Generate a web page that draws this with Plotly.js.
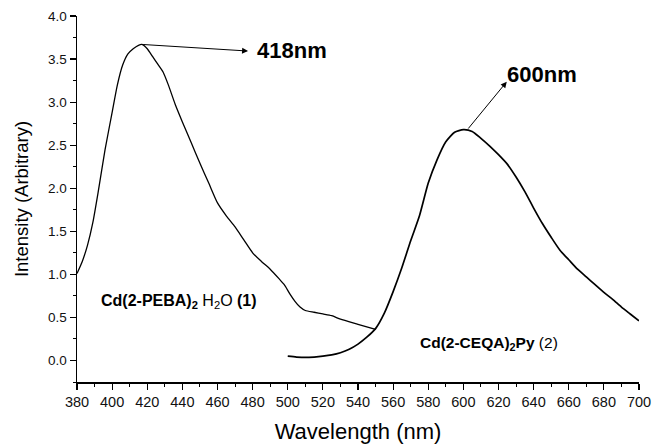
<!DOCTYPE html>
<html>
<head>
<meta charset="utf-8">
<script src="https://cdn.plot.ly/plotly-3.0.1.min.js"></script>
<style>html,body{margin:0;padding:0;background:#fff;}#chart{width:653px;height:444px;}</style>
</head>
<body>
<div id="chart"></div>
<script>
// Curve 1: Cd(2-PEBA)2 H2O (1)
const wavelength1 = [380,383,386,389,392,396,400,403,406,409,412,415,417,420,423,426,429,432,436,440,445,450,455,460,465,470,475,480,485,490,495,498,501,504,507,510,515,520,525,530,540,550];
const intensity1  = [1.01,1.15,1.34,1.60,1.95,2.45,2.88,3.20,3.43,3.56,3.62,3.66,3.67,3.62,3.53,3.44,3.35,3.20,2.97,2.77,2.53,2.29,2.06,1.83,1.68,1.55,1.40,1.25,1.15,1.06,0.95,0.88,0.78,0.69,0.62,0.58,0.56,0.54,0.52,0.48,0.42,0.36];
// Curve 2: Cd(2-CEQA)2Py (2)
const wavelength2 = [500,505,510,515,520,525,530,535,540,545,550,555,560,565,570,575,580,585,590,595,600,605,610,615,620,625,630,635,640,645,650,655,660,665,670,675,680,685,690,695,700];
const intensity2  = [0.05,0.04,0.035,0.04,0.05,0.065,0.09,0.13,0.19,0.27,0.37,0.55,0.80,1.08,1.39,1.68,2.06,2.33,2.54,2.65,2.68,2.66,2.58,2.49,2.39,2.28,2.13,1.96,1.77,1.59,1.43,1.28,1.17,1.06,0.97,0.88,0.79,0.71,0.62,0.54,0.46];
const peakLabels = ["418nm", "600nm"];
const seriesLabels = ["<b>Cd(2-PEBA)<sub>2</sub></b> H<sub>2</sub>O <b>(1)</b>", "<b>Cd(2-CEQA)<sub>2</sub>Py</b> (2)"];

const FONT = "Liberation Sans, Arial, Helvetica, sans-serif";
const traces = [
  {x: wavelength1, y: intensity1, mode: "lines", line: {color: "#000", width: 1.3, shape: "spline", smoothing: 0.6}, hoverinfo: "none"},
  {x: wavelength2, y: intensity2, mode: "lines", line: {color: "#000", width: 1.7, shape: "spline", smoothing: 0.6}, hoverinfo: "none"}
];
const layout = {
  width: 653, height: 444,
  margin: {l: 77, r: 14, t: 16, b: 62},
  paper_bgcolor: "#fff", plot_bgcolor: "#fff",
  showlegend: false,
  font: {family: FONT, color: "#000"},
  xaxis: {
    range: [380, 700], dtick: 20, tick0: 380,
    showline: true, linecolor: "#000", linewidth: 1.5,
    ticks: "outside", ticklen: 6, tickwidth: 1.2, tickcolor: "#000",
    minor: {dtick: 10, ticks: "outside", ticklen: 3, tickwidth: 1, tickcolor: "#000"},
    showgrid: false, zeroline: false,
    tickfont: {size: 14.5, color: "#111", family: FONT},
    title: {text: "Wavelength (nm)", font: {size: 22, family: FONT}, standoff: 14}
  },
  yaxis: {
    range: [-0.25, 4.0], dtick: 0.5, tick0: 0, tickformat: ".1f",
    showline: true, linecolor: "#000", linewidth: 1.5,
    ticks: "outside", ticklen: 6, tickwidth: 1.2, tickcolor: "#000",
    minor: {dtick: 0.25, ticks: "outside", ticklen: 3, tickwidth: 1, tickcolor: "#000"},
    showgrid: false, zeroline: false,
    tickfont: {size: 13.5, color: "#111", family: FONT},
    title: {text: "Intensity (Arbitrary)", font: {size: 18.5, family: FONT}, standoff: 14}
  },
  annotations: [
    {x: 477.4, y: 3.593, ax: 416.8, ay: 3.67, xref: "x", yref: "y", axref: "x", ayref: "y",
     text: "", showarrow: true, arrowhead: 2, arrowsize: 1.2, arrowwidth: 1, arrowcolor: "#000"},
    {x: 624.7, y: 3.237, ax: 602.1, ay: 2.676, xref: "x", yref: "y", axref: "x", ayref: "y",
     text: "", showarrow: true, arrowhead: 2, arrowsize: 1.2, arrowwidth: 1, arrowcolor: "#000"},
    {x: 502.2, y: 3.605, xref: "x", yref: "y", text: "<b>" + peakLabels[0] + "</b>", showarrow: false,
     font: {size: 22, family: FONT, color: "#000"}},
    {x: 644.5, y: 3.326, xref: "x", yref: "y", text: "<b>" + peakLabels[1] + "</b>", showarrow: false,
     font: {size: 22, family: FONT, color: "#000"}},
    {x: 438.1, y: 0.68, xref: "x", yref: "y", text: seriesLabels[0], showarrow: false,
     font: {size: 16, family: FONT, color: "#000"}},
    {x: 614.6, y: 0.20, xref: "x", yref: "y", text: seriesLabels[1], showarrow: false,
     font: {size: 15.5, family: FONT, color: "#000"}}
  ]
};
Plotly.newPlot("chart", traces, layout, {staticPlot: true, displayModeBar: false});
</script>
</body>
</html>
